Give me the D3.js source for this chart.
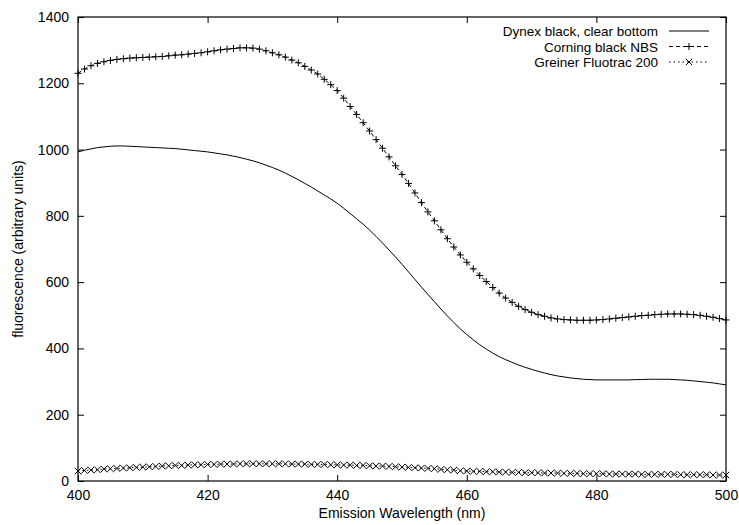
<!DOCTYPE html>
<html>
<head>
<meta charset="utf-8">
<script src="https://cdn.jsdelivr.net/npm/d3@7"></script>
<style>
body { margin: 0; background: #fff; }
svg text { font-family: "Liberation Sans", Arial, sans-serif; fill: #000; }
</style>
</head>
<body>
<svg id="chart" width="739" height="525"></svg>
<script>
// wavelengths, 1 nm steps
const wavelengths = d3.range(400, 501);

const dynex = [
  993, 998, 1002, 1006, 1008, 1010, 1011, 1011, 1010, 1009,
  1008, 1007, 1006, 1005, 1004, 1003, 1001, 999, 997, 995,
  993, 990, 987, 984, 980, 976, 971, 966, 960, 953,
  946, 938, 929, 919, 909, 898, 887, 875, 863, 851,
  838, 823, 807, 791, 775, 757, 738, 718, 697, 676,
  654, 631, 608, 585, 563, 541, 519, 498, 478, 459,
  442, 426, 411, 398, 386, 375, 366, 358, 350, 343,
  337, 331, 326, 321, 317, 314, 311, 309, 307, 306,
  305, 305, 305, 305, 305, 305, 306, 306, 307, 307,
  307, 307, 306, 305, 304, 302, 300, 298, 296, 293,
  290
];

const corning = [
  1230, 1243, 1253, 1260, 1265, 1269, 1272, 1274, 1276, 1277,
  1278, 1279, 1280, 1281, 1283, 1285, 1286, 1288, 1290, 1292,
  1295, 1298, 1301, 1303, 1305, 1307, 1307, 1306, 1303, 1298,
  1292, 1286, 1279, 1270, 1262, 1251, 1240, 1228, 1212, 1196,
  1178, 1155, 1130, 1106, 1081, 1056, 1030, 1004, 978, 951,
  925, 898, 869, 840, 812, 785, 758, 731, 706, 682,
  660, 640, 620, 602, 584, 567, 552, 539, 527, 517,
  509, 502, 497, 492, 489, 487, 486, 485, 485, 485,
  486, 487, 489, 491, 493, 495, 497, 499, 500, 502,
  503, 504, 504, 504, 503, 502, 500, 497, 494, 490,
  486
];

const greiner = [
  30, 32, 33, 34, 36, 37, 38, 39, 40, 41,
  42, 43, 44, 45, 46, 47, 47, 48, 49, 49,
  50, 50, 51, 51, 51, 52, 52, 52, 52, 52,
  52, 52, 52, 51, 51, 51, 50, 50, 50, 49,
  49, 48, 48, 47, 47, 46, 45, 45, 44, 43,
  42, 41, 40, 39, 38, 37, 35, 34, 33, 31,
  30, 29, 29, 28, 28, 27, 27, 26, 26, 25,
  25, 25, 24, 24, 24, 23, 23, 23, 22, 22,
  22, 22, 21, 21, 21, 21, 21, 20, 20, 20,
  20, 20, 20, 19, 19, 19, 19, 19, 18, 18,
  18
];

const seriesNames = ["Dynex black, clear bottom", "Corning black NBS", "Greiner Fluotrac 200"];
const xTicks = [400, 420, 440, 460, 480, 500];
const yTicks = [0, 200, 400, 600, 800, 1000, 1200, 1400];

const svg = d3.select("#chart");
const mLeft = 78, mRight = 726, mTop = 17, mBottom = 481;
const fontSize = 14;

const x = d3.scaleLinear().domain([400, 500]).range([mLeft, mRight]);
const y = d3.scaleLinear().domain([0, 1400]).range([mBottom, mTop]);

const tickLen = 6;

// axes: labels outside, ticks inward (mirrored)
svg.append("g")
  .attr("transform", `translate(0,${mBottom})`)
  .call(d3.axisBottom(x).tickValues(xTicks).tickSize(-tickLen).tickPadding(9).tickFormat(d3.format("d")))
  .call(g => g.select(".domain").remove())
  .call(g => g.selectAll("text").attr("font-size", fontSize).attr("font-family", "Liberation Sans, Arial, sans-serif"));

svg.append("g")
  .attr("transform", `translate(0,${mTop})`)
  .call(d3.axisTop(x).tickValues(xTicks).tickSize(-tickLen).tickFormat(""))
  .call(g => g.select(".domain").remove());

svg.append("g")
  .attr("transform", `translate(${mLeft},0)`)
  .call(d3.axisLeft(y).tickValues(yTicks).tickSize(-tickLen).tickPadding(9).tickFormat(d3.format("d")))
  .call(g => g.select(".domain").remove())
  .call(g => g.selectAll("text").attr("font-size", fontSize).attr("font-family", "Liberation Sans, Arial, sans-serif"));

svg.append("g")
  .attr("transform", `translate(${mRight},0)`)
  .call(d3.axisRight(y).tickValues(yTicks).tickSize(-tickLen).tickFormat(""))
  .call(g => g.select(".domain").remove());

svg.selectAll(".tick line").attr("stroke", "#000");

// frame
svg.append("rect")
  .attr("x", mLeft).attr("y", mTop)
  .attr("width", mRight - mLeft).attr("height", mBottom - mTop)
  .attr("fill", "none").attr("stroke", "#000").attr("stroke-width", 1.2);

// axis titles
svg.append("text")
  .attr("x", (mLeft + mRight) / 2).attr("y", 518)
  .attr("text-anchor", "middle").attr("font-size", fontSize)
  .text("Emission Wavelength (nm)");

svg.append("text")
  .attr("transform", `translate(23,${(mTop + mBottom) / 2}) rotate(-90)`)
  .attr("text-anchor", "middle").attr("font-size", fontSize)
  .text("fluorescence (arbitrary units)");

const line = d3.line().x((d, i) => x(wavelengths[i])).y(d => y(d));
const smooth = d3.line().curve(d3.curveMonotoneX).x((d, i) => x(wavelengths[i])).y(d => y(d));

const plot = svg.append("g");

plot.append("path").datum(dynex)
  .attr("d", smooth).attr("fill", "none").attr("stroke", "#000").attr("stroke-width", 1);

plot.append("path").datum(corning)
  .attr("d", line).attr("fill", "none").attr("stroke", "#000").attr("stroke-width", 1)
  .attr("stroke-dasharray", "4,3");

plot.append("path").datum(greiner)
  .attr("d", line).attr("fill", "none").attr("stroke", "#000").attr("stroke-width", 1)
  .attr("stroke-dasharray", "1.5,3");

const s = 3.5;
function plus(sel) {
  sel.attr("d", `M${-s},0H${s}M0,${-s}V${s}`);
}
function cross(sel) {
  const c = 3.2;
  sel.attr("d", `M${-c},${-c}L${c},${c}M${-c},${c}L${c},${-c}`);
}

plot.selectAll(".pc").data(corning).join("path")
  .attr("class", "pc")
  .attr("transform", (d, i) => `translate(${x(wavelengths[i])},${y(d)})`)
  .call(plus)
  .attr("stroke", "#000").attr("stroke-width", 1).attr("fill", "none");

plot.selectAll(".px").data(greiner).join("path")
  .attr("class", "px")
  .attr("transform", (d, i) => `translate(${x(wavelengths[i])},${y(d)})`)
  .call(cross)
  .attr("stroke", "#000").attr("stroke-width", 1).attr("fill", "none");

// legend
const legY = [31, 46.5, 62];
const legend = svg.append("g");
seriesNames.forEach((name, i) => {
  legend.append("text")
    .attr("x", 658).attr("y", legY[i] + 5)
    .attr("text-anchor", "end").attr("font-size", 13.5)
    .text(name);
  const ln = legend.append("line")
    .attr("x1", 669).attr("x2", 709)
    .attr("y1", legY[i]).attr("y2", legY[i])
    .attr("stroke", "#000").attr("stroke-width", 1);
  if (i === 1) ln.attr("stroke-dasharray", "4,3");
  if (i === 2) ln.attr("stroke-dasharray", "1.5,3");
  if (i > 0) {
    legend.append("path")
      .attr("transform", `translate(689,${legY[i]})`)
      .call(i === 1 ? plus : cross)
      .attr("stroke", "#000").attr("stroke-width", 1).attr("fill", "none");
  }
});
</script>
</body>
</html>
